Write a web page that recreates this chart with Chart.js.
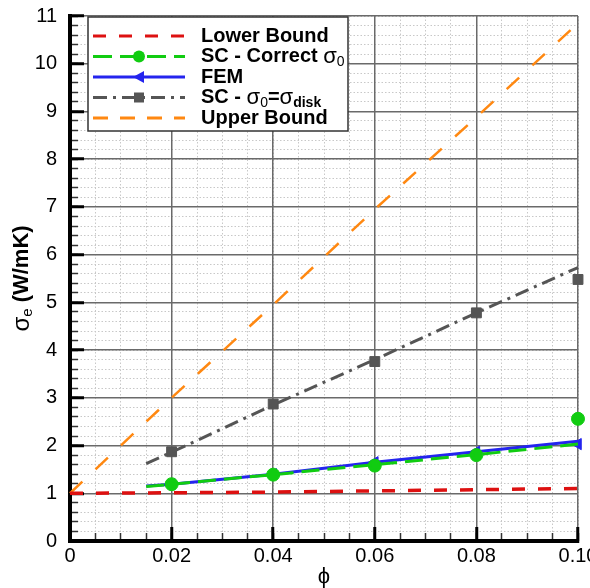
<!DOCTYPE html>
<html>
<head>
<meta charset="utf-8">
<script src="https://cdn.jsdelivr.net/npm/chart.js@4.4.1/dist/chart.umd.min.js"></script>
<style>
  html, body { margin: 0; padding: 0; background: #fff; }
  #box { width: 590px; height: 588px; }
</style>
</head>
<body>
<div id="box"><canvas id="chart"></canvas></div>
<script>
// bounds, evaluated on the full phi range
var phiBound = [0, 0.02, 0.04, 0.06, 0.08, 0.1];
var lowerBound = [1.0, 1.01, 1.025, 1.05, 1.075, 1.1];
var upperBound = [1.0, 3.0, 4.95, 6.95, 8.88, 10.85];

// model curves (start at phi = 0.015)
var phiModel = [0.015, 0.02, 0.04, 0.06, 0.08, 0.1];
var scCorrectLine = [1.14, 1.19, 1.39, 1.6, 1.81, 2.03];
var femLine = [1.15, 1.19, 1.4, 1.65, 1.87, 2.09];
var scDiskLine = [1.62, 1.86, 2.85, 3.8, 4.78, 5.73];

// symbols
var phiPoints = [0.02, 0.04, 0.06, 0.08, 0.1];
var scCorrectPoints = [1.19, 1.39, 1.58, 1.8, 2.56];
var femPoints = [1.19, 1.4, 1.65, 1.87, 2.03];
var scDiskPoints = [1.87, 2.87, 3.76, 4.78, 5.48];

// axes
var xRange = [0, 0.1];
var yRange = [0, 11];
var xMajorStep = 0.02;
var xMinorStep = 0.005;
var yMajorStep = 1;
var yMinorStep = 0.2;

var RED = "#dd1111";
var GREEN = "#11cc11";
var BLUE = "#2424ee";
var GREY = "#555555";
var ORANGE = "#ff8811";
var FONT = "'Liberation Sans', Arial, sans-serif";

function toXY(xs, ys) {
  return xs.map(function (x, i) {
    return { x: x, y: ys[i] };
  });
}

function lineSet(label, xs, ys, color, width, dash) {
  return {
    label: label,
    data: toXY(xs, ys),
    showLine: true,
    borderColor: color,
    borderWidth: width,
    borderDash: dash,
    pointRadius: 0,
    tension: 0,
    clip: false,
  };
}

function pointSet(label, xs, ys, color, style, radius, rotation) {
  return {
    label: label,
    data: toXY(xs, ys),
    showLine: false,
    pointStyle: style,
    pointRadius: radius,
    rotation: rotation || 0,
    backgroundColor: color,
    borderColor: color,
    borderWidth: 1,
    clip: false,
  };
}

// legend rows: text pieces, [text, font, baseline shift]
var legendRows = [
  { color: RED, width: 3, dash: [13, 13], marker: null,
    text: [["Lower Bound", "bold 20px", 0]] },
  { color: GREEN, width: 3, dash: [19, 8], marker: "circle",
    text: [["SC - Correct ", "bold 20px", 0], ["\u03c3", "22px", 0], ["0", "14px", 6]] },
  { color: BLUE, width: 3, dash: [], marker: "triangle",
    text: [["FEM", "bold 20px", 0]] },
  { color: GREY, width: 3, dash: [14, 6, 3, 6], marker: "rect",
    text: [["SC - ", "bold 20px", 0], ["\u03c3", "22px", 0], ["0", "14px", 6],
           ["=", "bold 20px", 0], ["\u03c3", "22px", 0], ["disk", "bold 14px", 6]] },
  { color: ORANGE, width: 3, dash: [15, 12], marker: null,
    text: [["Upper Bound", "bold 20px", 0]] },
];

function drawPieces(ctx, pieces, x, y) {
  for (var i = 0; i < pieces.length; i++) {
    ctx.font = pieces[i][1] + " " + FONT;
    ctx.fillText(pieces[i][0], x, y + pieces[i][2]);
    x += ctx.measureText(pieces[i][0]).width;
  }
  return x;
}

function piecesWidth(ctx, pieces) {
  var w = 0;
  for (var i = 0; i < pieces.length; i++) {
    ctx.font = pieces[i][1] + " " + FONT;
    w += ctx.measureText(pieces[i][0]).width;
  }
  return w;
}

function drawMarker(ctx, type, x, y, color) {
  ctx.fillStyle = color;
  ctx.beginPath();
  if (type == "circle") {
    ctx.arc(x, y, 6, 0, Math.PI * 2);
  } else if (type == "rect") {
    ctx.rect(x - 5, y - 5, 10, 10);
  } else if (type == "triangle") {
    ctx.moveTo(x - 6, y);
    ctx.lineTo(x + 5, y - 6);
    ctx.lineTo(x + 5, y + 6);
    ctx.closePath();
  }
  ctx.fill();
}

var legendAndTitle = {
  id: "legendAndTitle",
  afterDraw: function (chart) {
    var ctx = chart.ctx;
    var area = chart.chartArea;
    ctx.save();

    // legend box
    var bx = area.left + 18, by = area.top + 1, bw = 260, bh = 114;
    ctx.fillStyle = "#fff";
    ctx.fillRect(bx, by, bw, bh);
    ctx.strokeStyle = "#333";
    ctx.lineWidth = 1.5;
    ctx.setLineDash([]);
    ctx.strokeRect(bx, by, bw, bh);

    ctx.textBaseline = "middle";
    ctx.textAlign = "left";
    for (var i = 0; i < legendRows.length; i++) {
      var row = legendRows[i];
      var ry = by + 19 + i * 20.5;
      ctx.strokeStyle = row.color;
      ctx.lineWidth = row.width;
      ctx.setLineDash(row.dash);
      ctx.beginPath();
      ctx.moveTo(bx + 5, ry);
      ctx.lineTo(bx + 97, ry);
      ctx.stroke();
      ctx.setLineDash([]);
      if (row.marker) drawMarker(ctx, row.marker, bx + 51, ry, row.color);
      ctx.fillStyle = "#000";
      drawPieces(ctx, row.text, bx + 113, ry);
    }

    // y axis title with subscript
    var title = [["\u03c3", "24px", 0], ["e", "15px", 6], [" (W/mK)", "bold 22px", 0]];
    ctx.translate(22, (area.top + area.bottom) / 2);
    ctx.rotate(-Math.PI / 2);
    ctx.fillStyle = "#000";
    drawPieces(ctx, title, -piecesWidth(ctx, title) / 2, 0);
    ctx.restore();
  },
};

function majorAxis(pos, range, step, tickPad, afterFit) {
  return {
    type: "linear",
    position: pos,
    min: range[0],
    max: range[1],
    weight: 1,
    ticks: {
      stepSize: step,
      color: "#000",
      padding: tickPad,
      font: { size: 20, family: FONT },
      autoSkip: false,
    },
    grid: {
      color: "#6a6a6a",
      lineWidth: 1.5,
      drawTicks: true,
      tickLength: -14,
      tickColor: "#000",
      tickWidth: 3,
    },
    border: { display: true, color: "#000", width: 4 },
    afterFit: afterFit,
  };
}

function minorAxis(pos, range, step, afterFit) {
  return {
    type: "linear",
    position: pos,
    min: range[0],
    max: range[1],
    weight: -1,
    ticks: { display: false, stepSize: step, maxTicksLimit: 200 },
    grid: {
      color: "#c8c8c8",
      lineWidth: 1,
      z: -1,
      drawTicks: true,
      tickLength: -8,
      tickColor: "#333",
      tickWidth: 1.5,
    },
    border: { display: false, dash: [1.5, 2] },
    afterFit: afterFit,
  };
}

var xMajor = majorAxis("bottom", xRange, xMajorStep, 17, function (s) {
  s.height = 47;
  s.paddingLeft = 0;
  s.paddingRight = 0;
});
xMajor.title = {
  display: true,
  text: "\u03d5",
  color: "#000",
  font: { size: 22, family: FONT, lineHeight: 1 },
  padding: { top: 0, bottom: 0 },
};

var yMajor = majorAxis("left", yRange, yMajorStep, 27, function (s) {
  s.width = 70;
  s.paddingTop = 0;
  s.paddingBottom = 0;
});

var xMinor = minorAxis("bottom", xRange, xMinorStep, function (s) {
  s.height = 0;
  s.paddingLeft = 0;
  s.paddingRight = 0;
});
var yMinor = minorAxis("left", yRange, yMinorStep, function (s) {
  s.width = 0;
  s.paddingTop = 0;
  s.paddingBottom = 0;
});

var datasets = [
  lineSet("Lower Bound", phiBound, lowerBound, RED, 3.5, [13, 13]),
  lineSet("Upper Bound", phiBound, upperBound, ORANGE, 2.5, [17, 18]),
  lineSet("SC - \u03c30=\u03c3disk", phiModel, scDiskLine, GREY, 3, [14, 6, 3, 6]),
  pointSet("SC - \u03c30=\u03c3disk", phiPoints, scDiskPoints, GREY, "rect", 7),
  lineSet("SC - Correct \u03c30", phiModel, scCorrectLine, GREEN, 3, [18, 8]),
  pointSet("SC - Correct \u03c30", phiPoints, scCorrectPoints, GREEN, "circle", 6.5),
  lineSet("FEM", phiModel, femLine, BLUE, 3, []),
  pointSet("FEM", phiPoints, femPoints, BLUE, "triangle", 6.5, -90),
];
datasets.forEach(function (d) {
  d.xAxisID = "x";
  d.yAxisID = "y";
});

var ctx = document.getElementById("chart").getContext("2d");
var chart = new Chart(ctx, {
  type: "scatter",
  data: { datasets: datasets },
  options: {
    responsive: true,
    maintainAspectRatio: false,
    animation: false,
    layout: { padding: { left: 0, right: 12, top: 16, bottom: 0 } },
    scales: {
      xm: xMinor,
      ym: yMinor,
      x: xMajor,
      y: yMajor,
    },
    plugins: {
      legend: { display: false },
      tooltip: { enabled: false },
    },
  },
  plugins: [legendAndTitle],
});
</script>
</body>
</html>
